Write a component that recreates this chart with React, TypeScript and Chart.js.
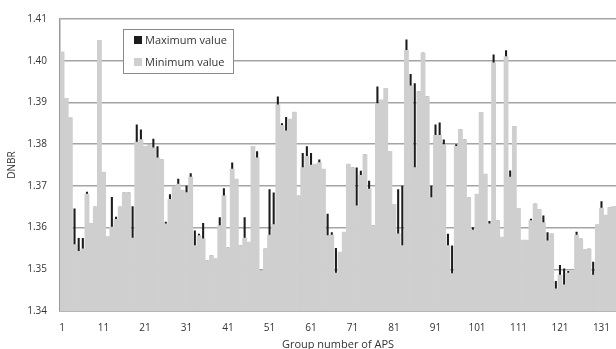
import { useEffect, useRef } from "react";
import { Chart, registerables } from "chart.js";

Chart.register(...registerables);

// Group numbers of the APS along the x axis
const groupNumbers = Array.from({ length: 134 }, (_, i) => String(i + 1));
const tickLabels = ["1", "11", "21", "31", "41", "51", "61", "71", "81", "91", "101", "111", "121", "131"];

// DNBR per group
const maximumValues = [
  1.4021, 1.3910, 1.3863, 1.3646, 1.3575, 1.3575, 1.3686, 1.3610, 1.3650, 1.4049,
  1.3733, 1.3578, 1.3673, 1.3626, 1.3650, 1.3684, 1.3684, 1.3651, 1.3847, 1.3835,
  1.3795, 1.3799, 1.3813, 1.3795, 1.3763, 1.3614, 1.3680, 1.3696, 1.3717, 1.3690,
  1.3700, 1.3730, 1.3593, 1.3585, 1.3611, 1.3521, 1.3533, 1.3525, 1.3625, 1.3694,
  1.3552, 1.3756, 1.3716, 1.3557, 1.3625, 1.3565, 1.3795, 1.3783, 1.3497, 1.3549,
  1.3692, 1.3684, 1.3914, 1.3850, 1.3865, 1.3860, 1.3877, 1.3676, 1.3779, 1.3795,
  1.3779, 1.3752, 1.3763, 1.3740, 1.3633, 1.3589, 1.3551, 1.3541, 1.3589, 1.3752,
  1.3744, 1.3744, 1.3736, 1.3775, 1.3712, 1.3605, 1.3938, 1.3906, 1.3934, 1.3783,
  1.3656, 1.3692, 1.3700, 1.4051, 1.3968, 1.3946, 1.3926, 1.4019, 1.3914, 1.3700,
  1.3847, 1.3852, 1.3811, 1.3585, 1.3557, 1.3800, 1.3835, 1.3811, 1.3672, 1.3601,
  1.3680, 1.3876, 1.3728, 1.3616, 1.4015, 1.3617, 1.3577, 1.4025, 1.3737, 1.3843,
  1.3646, 1.3570, 1.3570, 1.3621, 1.3657, 1.3644, 1.3629, 1.3589, 1.3585, 1.3472,
  1.3510, 1.3502, 1.3496, 1.3496, 1.3590, 1.3573, 1.3547, 1.3549, 1.3518, 1.3607,
  1.3663, 1.3630, 1.3648, 1.3651,
];

const minimumValues = [
  1.4021, 1.3910, 1.3863, 1.3559, 1.3543, 1.3549, 1.3680, 1.3610, 1.3650, 1.4049,
  1.3733, 1.3578, 1.3601, 1.3620, 1.3650, 1.3684, 1.3684, 1.3575, 1.3805, 1.3811,
  1.3795, 1.3799, 1.3791, 1.3767, 1.3763, 1.3609, 1.3668, 1.3696, 1.3704, 1.3690,
  1.3684, 1.3721, 1.3557, 1.3581, 1.3573, 1.3521, 1.3533, 1.3525, 1.3605, 1.3676,
  1.3552, 1.3740, 1.3716, 1.3557, 1.3575, 1.3565, 1.3795, 1.3767, 1.3497, 1.3549,
  1.3582, 1.3607, 1.3894, 1.3845, 1.3832, 1.3860, 1.3877, 1.3676, 1.3744, 1.3771,
  1.3750, 1.3752, 1.3756, 1.3740, 1.3581, 1.3582, 1.3491, 1.3541, 1.3589, 1.3752,
  1.3744, 1.3652, 1.3725, 1.3775, 1.3692, 1.3605, 1.3897, 1.3906, 1.3934, 1.3783,
  1.3656, 1.3585, 1.3557, 1.4025, 1.3940, 1.3744, 1.3926, 1.4019, 1.3914, 1.3672,
  1.3821, 1.3821, 1.3799, 1.3557, 1.3490, 1.3795, 1.3835, 1.3811, 1.3672, 1.3594,
  1.3680, 1.3876, 1.3728, 1.3609, 1.3995, 1.3617, 1.3577, 1.4010, 1.3721, 1.3843,
  1.3646, 1.3570, 1.3570, 1.3617, 1.3657, 1.3644, 1.3612, 1.3568, 1.3585, 1.3453,
  1.3486, 1.3463, 1.3491, 1.3496, 1.3582, 1.3573, 1.3547, 1.3549, 1.3486, 1.3607,
  1.3647, 1.3630, 1.3648, 1.3651,
];

const FONT = '"Open Sans", "Liberation Sans", sans-serif';
const TEXT_COLOR = "#333333";
const MAX_COLOR = "#1c1c1c";
const MIN_COLOR = "#cfcfcf";

// Boxed legend sitting inside the plot, top left
const legendBox = {
  id: "legendBox",
  afterDraw(chart: any) {
    const { ctx } = chart;
    const datasets = chart.data.datasets;
    const x = 123.5;
    const y = 29.5;
    const w = 110;
    const h = 44;
    ctx.save();
    ctx.fillStyle = "#ffffff";
    ctx.fillRect(x, y, w, h);
    ctx.strokeStyle = "#8a8a8a";
    ctx.lineWidth = 1;
    ctx.strokeRect(x, y, w, h);
    ctx.font = `11px ${FONT}`;
    ctx.textBaseline = "middle";
    ctx.textAlign = "left";
    datasets.forEach((ds: any, i: number) => {
      const rowY = 40.5 + i * 22;
      ctx.fillStyle = ds.backgroundColor;
      ctx.fillRect(134, rowY - 4.5, 8, 8);
      ctx.fillStyle = TEXT_COLOR;
      ctx.fillText(ds.label, 145, rowY);
    });
    ctx.restore();
  },
};

export default function App() {
  const canvasRef = useRef<HTMLCanvasElement>(null);

  useEffect(() => {
    if (!canvasRef.current) return;
    const chart = new Chart(canvasRef.current, {
      type: "bar",
      data: {
        labels: groupNumbers,
        datasets: [
          {
            label: "Maximum value",
            data: maximumValues,
            backgroundColor: MAX_COLOR,
            grouped: false,
            order: 2,
            barPercentage: 0.5,
            categoryPercentage: 1,
          },
          {
            label: "Minimum value",
            data: minimumValues,
            backgroundColor: MIN_COLOR,
            grouped: false,
            order: 1,
            barPercentage: 1,
            categoryPercentage: 1,
          },
        ],
      },
      options: {
        responsive: false,
        animation: false,
        devicePixelRatio: 1,
        layout: { padding: { left: 0, top: 17, right: 0, bottom: 0 } },
        plugins: {
          legend: { display: false },
          tooltip: { enabled: false },
        },
        scales: {
          x: {
            grid: { display: false, drawTicks: false },
            border: { display: true, color: "#9a9a9a", width: 1.5 },
            ticks: {
              autoSkip: false,
              maxRotation: 0,
              padding: 11,
              color: TEXT_COLOR,
              font: { family: FONT, size: 10 },
              callback: (_v: any, i: number) =>
                tickLabels.includes(groupNumbers[i]) ? groupNumbers[i] : "",
            },
            title: {
              display: true,
              text: "Group number of APS",
              color: TEXT_COLOR,
              font: { family: FONT, size: 11, lineHeight: 0.8 },
              padding: 0,
            },
            afterFit: (scale: any) => {
              scale.height = 38;
              scale.paddingLeft = 0;
              scale.paddingRight = 0;
            },
          },
          y: {
            min: 1.34,
            max: 1.41,
            grid: { color: "#a4a4a4", lineWidth: 1.5, drawTicks: false },
            border: { display: true, color: "#9a9a9a", width: 1.5 },
            ticks: {
              stepSize: 0.01,
              padding: 13,
              color: TEXT_COLOR,
              font: { family: FONT, size: 10 },
              callback: (v: any) => Number(v).toFixed(2),
            },
            title: {
              display: true,
              text: "DNBR",
              color: TEXT_COLOR,
              font: { family: FONT, size: 10 },
              padding: { top: 6, bottom: 0 },
            },
            afterFit: (scale: any) => {
              scale.width = 60;
            },
          },
        },
      },
      plugins: [legendBox],
    });
    return () => chart.destroy();
  }, []);

  return (
    <div style={{ position: "fixed", left: 0, top: 0, width: 616, height: 349, background: "#fff" }}>
      <canvas ref={canvasRef} width={616} height={349} />
    </div>
  );
}
